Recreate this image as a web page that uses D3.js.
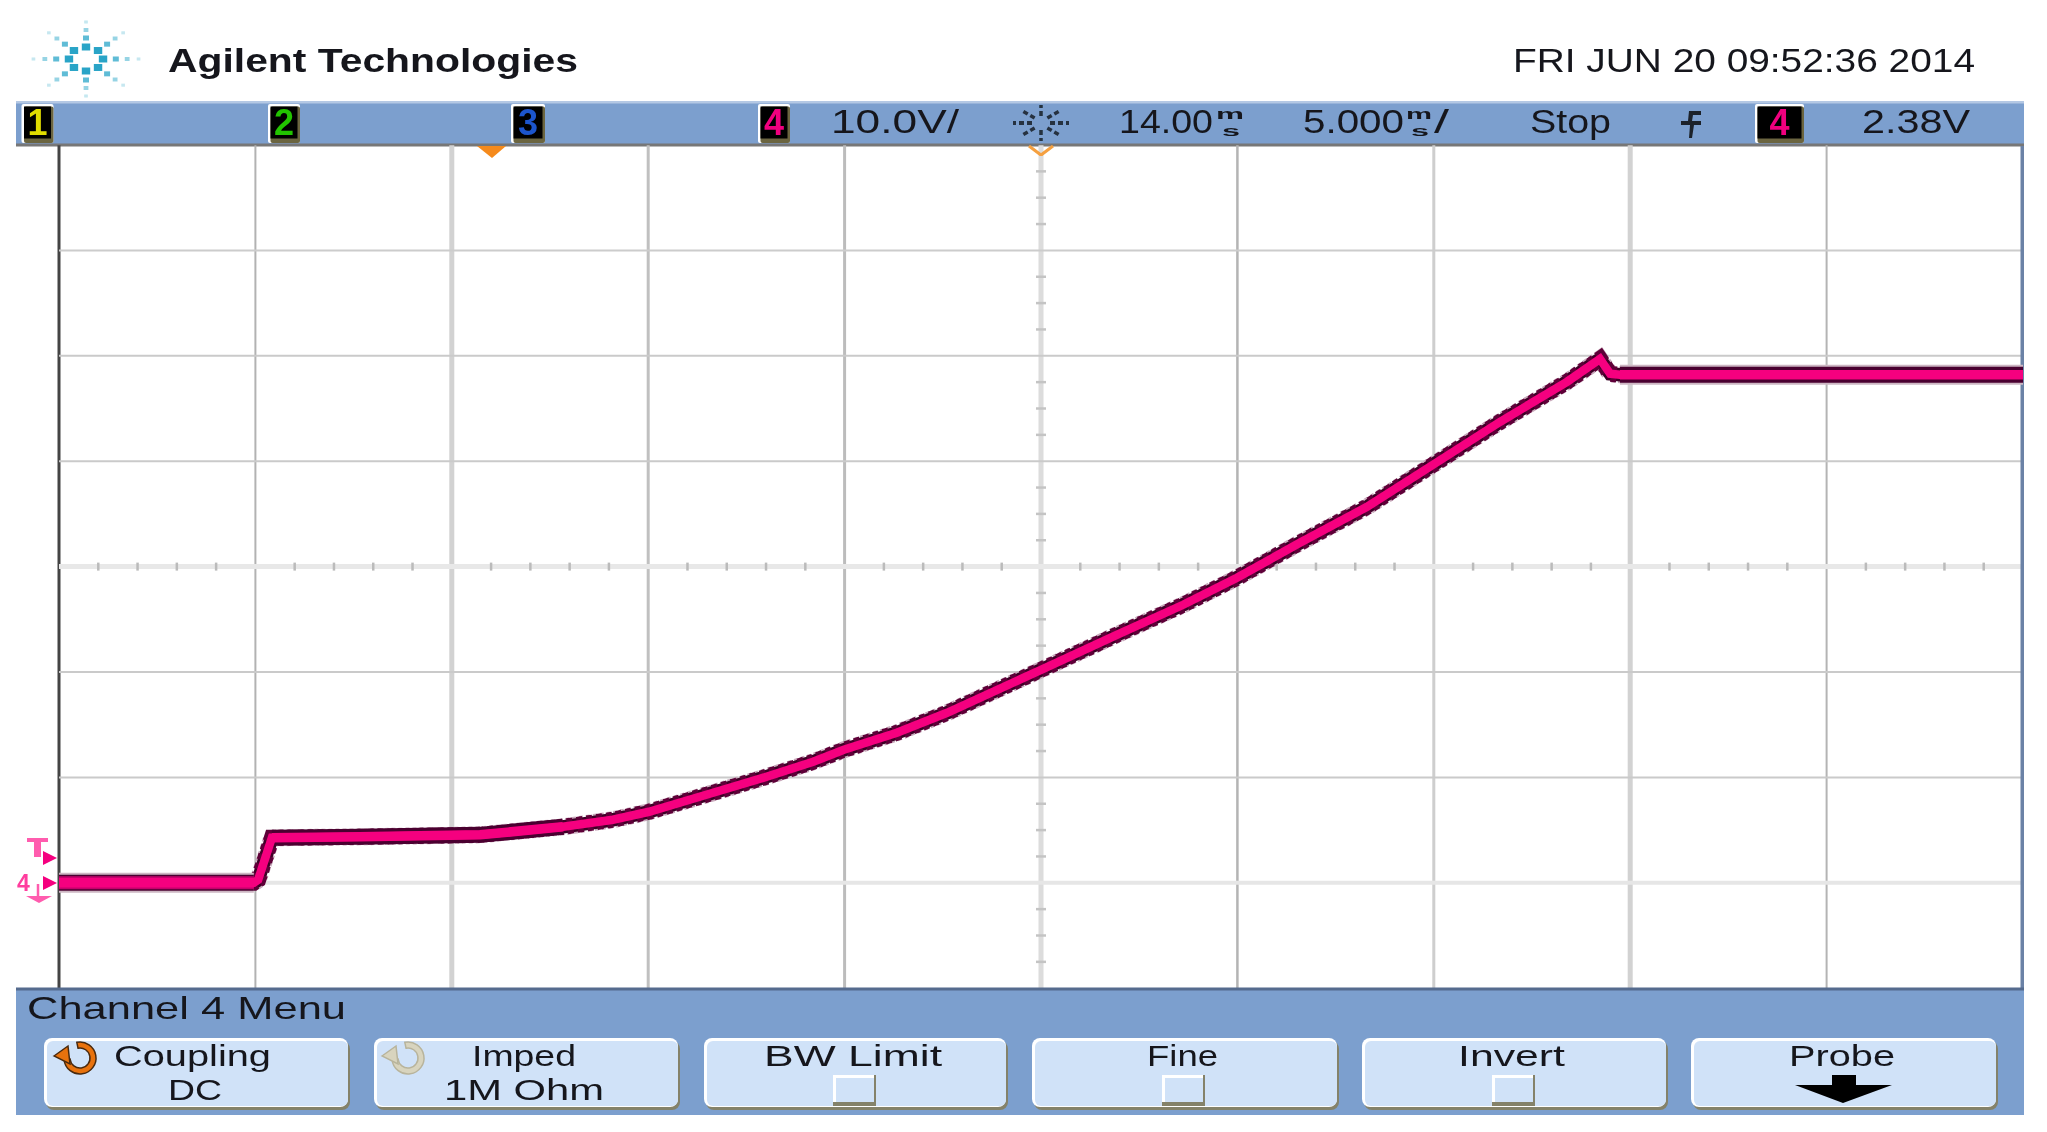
<!DOCTYPE html>
<meta charset="utf-8">
<style>
html, body { margin: 0; padding: 0; background: #fff; }
svg { display: block; }
text { font-family: "Liberation Sans", Arial, sans-serif; fill: #15181f; }
</style>
<svg width="2047" height="1132"></svg>
<script src="https://d3js.org/d3.v7.min.js"></script>
<script>

// trace: time in ms, channel 4 in volts
var timeMs = [-11, -6.04, -5.93, -5.58, -3.34, -0.28, 1.83, 3.10, 4.02, 5.65, 6.92, 8.2, 8.98,
  10.33, 11.61, 14, 15.93, 17.62, 18.99, 20.59, 22.30, 23.98, 25.69, 27.39, 28.23, 28.49, 28.74, 39];
var volts = [0, 0, 0.28, 4.27, 4.36, 4.55, 5.31, 5.98, 6.74, 8.54, 9.96, 11.48, 12.62,
  14.23, 16.13, 20.21, 23.53, 26.38, 28.94, 32.26, 35.67, 39.66, 43.74, 47.53, 49.7, 48.29, 48.2, 48.2];

var timeDivs = [-11, -6, -1, 4, 9, 14, 19, 24, 29, 34];
var voltDivs = [-10, 0, 10, 20, 30, 40, 50, 60, 70];
var timeMinor = d3.range(-11, 39.5, 1);
var voltMinor = d3.range(-10, 70.5, 2.5);

var channels = ["1", "2", "3", "4"];
var channelColors = ["#e0dc00", "#22c400", "#1f55cc", "#f0007f"];
var softkeys = ["Coupling", "Imped", "BW Limit", "Fine", "Invert", "Probe"];
var softkeyValues = ["DC", "1M Ohm", "", "", "", ""];

var svg = d3.select("svg");

var defs = svg.append("defs");
defs.append("filter").attr("id", "soft").append("feGaussianBlur").attr("stdDeviation", 0.75);

var x = d3.scaleLinear().domain([-11, 39]).range([59, 2023]),
    y = d3.scaleLinear().domain([-10, 70]).range([988.2, 145]);

// fixed text at a measured box, stretched to the measured width
function label(g, str, x0, x1, base, size, weight) {
  return g.append("text")
    .attr("x", x0).attr("y", base)
    .attr("textLength", x1 - x0)
    .attr("lengthAdjust", "spacingAndGlyphs")
    .style("font-size", size + "px")
    .style("font-weight", weight || "normal")
    .text(str);
}

// header ------------------------------------------------------------
var header = svg.append("g").attr("filter", "url(#soft)");

var logo = svg.append("g").attr("transform", "translate(86,59)").attr("filter", "url(#soft)");
d3.range(8).forEach(function(k) {
  var a = k * Math.PI / 4;
  [[12, 7, 0.95], [21, 5, 0.7], [29, 4, 0.45], [37, 3, 0.25]].forEach(function(d) {
    logo.append("rect")
      .attr("x", Math.cos(a) * d[0] * 1.42 - d[1] / 2 * 1.2)
      .attr("y", Math.sin(a) * d[0] - d[1] / 2)
      .attr("width", d[1] * 1.2).attr("height", d[1])
      .attr("fill", "#1d9fc4").attr("opacity", d[2]);
  });
});

label(header, "Agilent Technologies", 168, 578, 72, 33, "bold");
label(header, "FRI JUN 20 09:52:36 2014", 1513, 1975, 72, 34);

// status bar
svg.append("rect").attr("x", 16).attr("y", 101).attr("width", 2008).attr("height", 44).attr("fill", "#7c9fce");
svg.append("rect").attr("x", 16).attr("y", 101).attr("width", 2008).attr("height", 2.5).attr("fill", "#b4c8e4");
svg.append("rect").attr("x", 16).attr("y", 143.5).attr("width", 2008).attr("height", 3).attr("fill", "#777777");

var boxX = [21.5, 268, 511, 758];
var boxW = [32, 32, 34, 32];
function chanBox(cx, w, i) {
  svg.append("rect").attr("x", cx).attr("y", 104).attr("width", w).attr("height", 39).attr("rx", 2).attr("fill", "#ffffff");
  svg.append("rect").attr("x", cx + 2.5).attr("y", 106.5).attr("width", w - 2.5).attr("height", 36.5).attr("rx", 2).attr("fill", "#6b6540");
  svg.append("rect").attr("x", cx + 2.5).attr("y", 106.5).attr("width", w - 5).attr("height", 32).attr("fill", "#000");
  svg.append("text").attr("x", cx + w / 2).attr("y", 135)
    .attr("text-anchor", "middle")
    .style("font-size", "36px").style("font-weight", "bold").style("fill", channelColors[i])
    .attr("filter", "url(#soft)")
    .text(channels[i]);
}
channels.forEach(function(c, i) { chanBox(boxX[i], boxW[i], i); });
chanBox(1755, 49, 3);

var bar = svg.append("g").attr("filter", "url(#soft)");
label(bar, "10.0V/", 831, 959, 133, 34);
label(bar, "14.00", 1119, 1213, 133, 34);
label(bar, "m", 1216, 1244, 119, 14, "bold");
label(bar, "s", 1222, 1240, 136, 14, "bold");
label(bar, "5.000", 1303, 1404, 133, 34);
label(bar, "m", 1406, 1432, 119, 14, "bold");
label(bar, "s", 1411, 1429, 136, 14, "bold");
label(bar, "/", 1434, 1449, 133, 34);
label(bar, "Stop", 1530, 1611, 133, 34);
label(bar, "2.38V", 1862, 1970, 133, 34);

// trigger edge symbol
bar.append("path").attr("d", "M1685 111 H1701 V115 H1693 L1692 121 H1701 V125 H1694 L1692 138 H1689 L1690 125 H1681 V121 H1688 L1689 111 Z").attr("fill", "#1d222b");

// sunburst run icon
var sun = bar.append("g").attr("transform", "translate(1041,123)");
d3.range(8).forEach(function(k) {
  var a = k * Math.PI / 4, hor = Math.abs(Math.cos(a));
  sun.append("line")
    .attr("x1", Math.cos(a) * 9).attr("y1", Math.sin(a) * 7)
    .attr("x2", Math.cos(a) * 28).attr("y2", Math.sin(a) * 18)
    .attr("stroke", "#25303f").attr("stroke-width", hor > 0.9 ? 4 : 3.5)
    .attr("stroke-dasharray", "5 3");
});

// plot ----------------------------------------------------------------
var gridX = svg.append("g").attr("class", "grid-x")
    .attr("transform", "translate(0,988.2)")
    .call(d3.axisTop(x).tickValues(timeDivs).tickSize(843).tickFormat("").offset(0));
gridX.select(".domain").remove();
var xColor = ["#444444", "#b2b2b2", "#d2d2d2", "#c0c0c0", "#bcbcbc", "#dcdcdc", "#b4b4b4", "#cecece", "#d2d2d2", "#b4b4b4"];
var xWidth = [3, 2, 5, 3, 3, 5, 2.5, 3, 5, 2];
gridX.selectAll(".tick line")
    .attr("stroke", function(d, i) { return xColor[i]; })
    .attr("stroke-width", function(d, i) { return xWidth[i]; });

var gridY = svg.append("g").attr("class", "grid-y")
    .attr("transform", "translate(59,0)")
    .call(d3.axisRight(y).tickValues(voltDivs).tickSize(1963).tickFormat("").offset(0));
gridY.select(".domain").remove();
var yColor = ["none", "#e6e6e6", "#cacaca", "#cacaca", "#e8e8e8", "#cacaca", "#cacaca", "#cccccc", "none"];
var yWidth = [0, 4, 2, 2, 5, 2, 2, 2, 0];
gridY.selectAll(".tick line")
    .attr("stroke", function(d, i) { return yColor[i]; })
    .attr("stroke-width", function(d, i) { return yWidth[i]; });

// minor ticks on the centre lines
svg.append("g")
    .attr("transform", "translate(0," + y(30) + ")")
    .call(d3.axisBottom(x).tickValues(timeMinor.filter(function(d) { return (d + 11) % 5 !== 0; })).tickSize(0).tickFormat("").offset(0))
    .call(function(g) { g.select(".domain").remove(); })
    .selectAll(".tick line").attr("y1", -4).attr("y2", 4).attr("stroke", "#bbbbbb").attr("stroke-width", 2.5);
svg.append("g")
    .attr("transform", "translate(" + x(14) + ",0)")
    .call(d3.axisLeft(y).tickValues(voltMinor.filter(function(d) { return d % 10 !== 0; })).tickSize(0).tickFormat("").offset(0))
    .call(function(g) { g.select(".domain").remove(); })
    .selectAll(".tick line").attr("x1", -5).attr("x2", 5).attr("stroke", "#c4c4c4").attr("stroke-width", 2.5);

// right edge
svg.append("rect").attr("x", 2020.5).attr("y", 146).attr("width", 3.5).attr("height", 844).attr("fill", "#6b82a6");

// delay and trigger markers
svg.append("path").attr("d", "M477 146 H506 L492 158 Z").attr("fill", "#f58a1a").attr("filter", "url(#soft)");
svg.append("path").attr("d", "M1029 146 L1041 155 L1053 146").attr("fill", "none")
    .attr("stroke", "#f5a040").attr("stroke-width", 3).attr("filter", "url(#soft)");

// trace -----------------------------------------------------------------
var points = timeMs.map(function(t, i) { return [t, volts[i]]; });
var line = d3.line().x(function(d) { return x(d[0]); }).y(function(d) { return y(d[1]); });

// flats show a fatter band of sample noise than the ramp
var flats = [points.slice(0, 2), points.slice(3, 7), points.slice(26, 28)];

function stroke(d, color, width, dash) {
  svg.append("path").attr("d", line(d)).attr("fill", "none")
    .attr("stroke", color).attr("stroke-width", width)
    .attr("stroke-linejoin", "miter")
    .attr("stroke-dasharray", dash || null);
}

stroke(points, "#c9a9bb", 17, "4 3");
stroke(points, "#3d0026", 13.5);
stroke(points, "#5e0038", 16, "6 4");
stroke(flats[0], "#cdb7c3", 20);
stroke(flats[2], "#cdb7c3", 20);
flats.forEach(function(f) { stroke(f, "#4a0030", 16); });
stroke(flats[0], "#c4006c", 13);
stroke(points, "#f5007f", 8.5);
flats.forEach(function(f) { stroke(f, "#f5007f", 9.5); });

// channel 4 ground and trigger level markers
var mark = svg.append("g").attr("filter", "url(#soft)");
mark.append("path").attr("d", "M27 838 H48 V842 H41 V857 H34 V842 H27 Z").attr("fill", "#ff5cae");
mark.append("path").attr("d", "M43 851 L57 858 L43 865 Z").attr("fill", "#f5007f");
mark.append("path").attr("d", "M43 876 L57 883 L43 890 Z").attr("fill", "#f5007f");
mark.append("text").attr("x", 17).attr("y", 891).style("font-size", "23px").style("font-weight", "bold").style("fill", "#ff3d9e").text("4");
mark.append("path").attr("d", "M38 884 V897").attr("stroke", "#ff5cae").attr("stroke-width", 2.5).attr("fill", "none");
mark.append("path").attr("d", "M26 896 H52 L39 903 Z").attr("fill", "#ff5cae");

// softkey menu ------------------------------------------------------------
svg.append("rect").attr("x", 16).attr("y", 990).attr("width", 2008).attr("height", 125).attr("fill", "#7c9fce");
svg.append("rect").attr("x", 16).attr("y", 987.5).attr("width", 2008).attr("height", 3).attr("fill", "#556b8e");

var keyX = [44, 374, 704, 1032, 1362, 1691];
var keyW = [304, 304, 302, 305, 304, 305];
var keyL1 = [[114, 271], [472, 576], [764, 942], [1147, 1218], [1458, 1565], [1789, 1895]];
var keyL2 = [[168, 222], [444, 604]];

softkeys.forEach(function(k, i) {
  svg.append("rect").attr("x", keyX[i] + 2).attr("y", 1041).attr("width", keyW[i]).attr("height", 69).attr("rx", 8).attr("fill", "#84826a");
  svg.append("rect").attr("x", keyX[i]).attr("y", 1038).attr("width", keyW[i]).attr("height", 69).attr("rx", 8).attr("fill", "#ffffff");
  svg.append("rect").attr("x", keyX[i] + 3).attr("y", 1041).attr("width", keyW[i] - 3).attr("height", 65).attr("rx", 6).attr("fill", "#d0e2f8");
});

var menu = svg.append("g").attr("filter", "url(#soft)");
label(menu, "Channel 4  Menu", 27, 346, 1019, 32);
softkeys.forEach(function(k, i) {
  label(menu, k, keyL1[i][0], keyL1[i][1], 1066, 29);
  if (softkeyValues[i]) label(menu, softkeyValues[i], keyL2[i][0], keyL2[i][1], 1100, 29);
});

// checkbox softkeys
[833, 1162, 1492].forEach(function(bx) {
  svg.append("rect").attr("x", bx).attr("y", 1075).attr("width", 43).attr("height", 31).attr("fill", "#84826a");
  svg.append("rect").attr("x", bx).attr("y", 1075).attr("width", 41).attr("height", 27).attr("fill", "#ffffff");
  svg.append("rect").attr("x", bx + 3).attr("y", 1078).attr("width", 38).attr("height", 24).attr("fill", "#d0e2f8");
});

// probe arrow
svg.append("path").attr("d", "M1832 1075 H1856 V1085 H1892 L1843 1103 L1795 1085 H1832 Z").attr("fill", "#000").attr("filter", "url(#soft)");

// entry knob icons
function knob(cx, color, edge) {
  var arc = d3.arc().innerRadius(10).outerRadius(16).startAngle(-0.2).endAngle(4.6);
  var g = svg.append("g").attr("transform", "translate(" + cx + ",1058)").attr("filter", "url(#soft)");
  g.append("path").attr("d", arc()).attr("fill", color).attr("stroke", edge).attr("stroke-width", 1.5);
  g.append("path").attr("d", "M-26 -2 L-12 -12 L-10 6 Z").attr("fill", color).attr("stroke", edge).attr("stroke-width", 1.5);
}
knob(80, "#e8720c", "#4a2a10");
knob(408, "#d8d4be", "#b8b49c");

</script>
